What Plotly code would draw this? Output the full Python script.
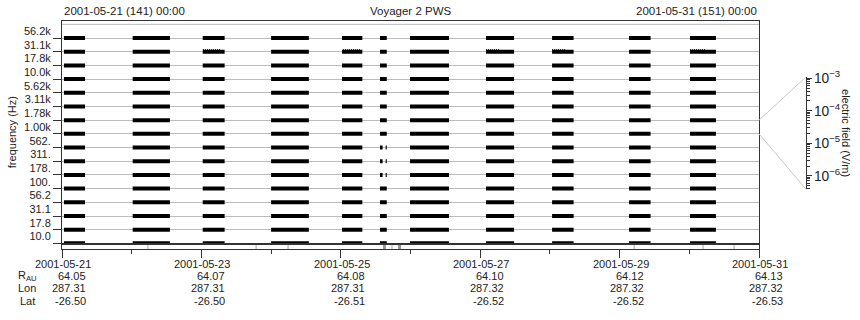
import math
import pandas as pd
import plotly.graph_objects as go

# ---------------- data ----------------
channel_labels = ['10.0', '17.8', '31.1', '56.2', '100.', '178.', '311.', '562.',
                  '1.00k', '1.78k', '3.11k', '5.62k', '10.0k', '17.8k', '31.1k', '56.2k']

obs_start = ['2001-05-21 00:40', '2001-05-22 00:20', '2001-05-23 00:27', '2001-05-24 00:00',
             '2001-05-25 00:25', '2001-05-25 13:30', '2001-05-25 23:50', '2001-05-27 02:00',
             '2001-05-28 00:45', '2001-05-29 03:15', '2001-05-30 00:15']
obs_end = ['2001-05-21 07:55', '2001-05-22 13:10', '2001-05-23 08:00', '2001-05-24 13:00',
           '2001-05-25 07:25', '2001-05-25 15:50', '2001-05-26 13:15', '2001-05-27 11:40',
           '2001-05-28 08:10', '2001-05-29 10:40', '2001-05-30 09:10']

gap_channels = ['178.', '311.', '562.']
gap_start = '2001-05-25 14:24'
gap_end = '2001-05-25 15:27'

# weak emission above background in the 31.1 kHz channel
active_channel = '31.1k'
active_start = ['2001-05-23 00:33', '2001-05-25 00:45', '2001-05-27 02:00',
                '2001-05-28 00:45', '2001-05-30 00:15']
active_end = ['2001-05-23 06:25', '2001-05-25 06:35', '2001-05-27 06:50',
              '2001-05-28 05:35', '2001-05-30 05:25']
active_level = 0.16

event_times = ['2001-05-22 05:35', '2001-05-23 18:50', '2001-05-24 05:50', '2001-05-25 17:38',
               '2001-05-29 05:00', '2001-05-30 04:44', '2001-05-30 15:25']
dropout_start = ['2001-05-25 14:32', '2001-05-25 19:42']
dropout_end = ['2001-05-25 15:34', '2001-05-25 20:45']

time_start = '2001-05-21 00:00'
time_end = '2001-05-31 00:00'

tick_dates = ['2001-05-21', '2001-05-23', '2001-05-25', '2001-05-27', '2001-05-29', '2001-05-31']
r_au = ['64.05', '64.07', '64.08', '64.10', '64.12', '64.13']
lon = ['287.31', '287.31', '287.31', '287.32', '287.32', '287.32']
lat = ['-26.50', '-26.50', '-26.51', '-26.52', '-26.52', '-26.53']

efield_range = [4e-7, 1.07e-3]
efield_minor = [m * 10.0 ** e for e in range(-7, -2) for m in range(2, 10)]
linked_channel = '1.00k'

# ---------------- layout geometry ----------------
W, H = 860, 320
ML, MR, MT, MB = 62, 20, 18, 71
PW = W - ML - MR
PH = H - MT - MB
xd = 697 / PW                      # main plot x-domain end
yd0 = (H - MB - 243.3) / PH        # main plot bottom
strip_top = (H - MB - 244.7) / PH
ytop = 16.245
cb_dom = [(H - MB - 188) / PH, (H - MB - 75) / PH]
cb_x = [(800 - ML) / PW, (805.7 - ML) / PW]

FONT = 'Liberation Sans, Arial, Helvetica, sans-serif'
TXT = '#222222'
AX = '#333333'


def py(px):
    return (H - MB - px) / PH


def ydata_to_paper(v):
    return yd0 + (v / ytop) * (1 - yd0)


# ---------------- bar segments ----------------
xs, ys = [], []
g0, g1 = pd.Timestamp(gap_start), pd.Timestamp(gap_end)
for i, lab in enumerate(channel_labels):
    for s, e in zip(obs_start, obs_end):
        s_t, e_t = pd.Timestamp(s), pd.Timestamp(e)
        pieces = [(s_t, e_t)]
        if lab in gap_channels and s_t < g0 and e_t > g1:
            pieces = [(s_t, g0), (g1, e_t)]
        for a, b in pieces:
            xs += [a, b, None]
            ys += [i, i, None]

ai = channel_labels.index(active_channel)
axs, ays = [], []
for s, e in zip(active_start, active_end):
    axs += [s, e, None]
    ays += [ai + active_level, ai + active_level, None]

fig = go.Figure()
fig.add_trace(go.Scatter(x=axs, y=ays, mode='lines',
                         line=dict(color='#333333', width=1, dash='1px,1px'),
                         xaxis='x', yaxis='y', hoverinfo='skip', showlegend=False))
fig.add_trace(go.Scatter(x=xs, y=ys, mode='lines', line=dict(color='black', width=4),
                         xaxis='x', yaxis='y', hoverinfo='skip', showlegend=False))
# invisible trace to carry label axis
fig.add_trace(go.Scatter(x=[time_start], y=[0], mode='markers', marker=dict(opacity=0),
                         xaxis='x', yaxis='y2', hoverinfo='skip', showlegend=False))

# strip events
ex, ey = [], []
for t in event_times:
    ex += [t, t, None]
    ey += [0, 1, None]
fig.add_trace(go.Scatter(x=ex, y=ey, mode='lines', line=dict(color='#aaaaaa', width=1),
                         xaxis='x2', yaxis='y3', hoverinfo='skip', showlegend=False))

# colour axis carriers
fig.add_trace(go.Scatter(x=[0.5, 0.5], y=efield_range, mode='markers', marker=dict(opacity=0),
                         xaxis='x3', yaxis='y4', hoverinfo='skip', showlegend=False))
fig.add_trace(go.Scatter(x=[0.5, 0.5], y=efield_range, mode='markers', marker=dict(opacity=0),
                         xaxis='x3', yaxis='y5', hoverinfo='skip', showlegend=False))

shapes = []
for s, e in zip(dropout_start, dropout_end):
    shapes.append(dict(type='rect', xref='x2', yref='y3', x0=s, x1=e, y0=0, y1=1,
                       fillcolor='#999999', line=dict(width=0), layer='below'))
# top row boundary gridline
shapes.append(dict(type='line', xref='x domain', yref='y', x0=0, x1=1,
                   y0=len(channel_labels), y1=len(channel_labels),
                   line=dict(color='#bbbbbb', width=1), layer='below'))
# connectors to the colour axis
ci = channel_labels.index(linked_channel)
shapes.append(dict(type='line', xref='paper', yref='paper', x0=xd, x1=cb_x[1],
                   y0=ydata_to_paper(ci + 1), y1=cb_dom[1], line=dict(color='#c8c8c8', width=1)))
shapes.append(dict(type='line', xref='paper', yref='paper', x0=xd, x1=cb_x[1],
                   y0=ydata_to_paper(ci), y1=cb_dom[0], line=dict(color='#c8c8c8', width=1)))

ann = []
f = dict(family=FONT, size=11, color=TXT)
ft = dict(family=FONT, size=11.5, color=TXT)
ann.append(dict(text='2001-05-21 (141) 00:00', xref='x domain', yref='paper', x=0, y=py(7.5),
                xanchor='left', yanchor='middle', showarrow=False, font=ft))
ann.append(dict(text='Voyager 2 PWS', xref='x domain', yref='paper', x=0.5, y=py(7.5),
                xanchor='center', yanchor='middle', showarrow=False, font=ft))
ann.append(dict(text='2001-05-31 (151) 00:00', xref='x domain', yref='paper', x=1, y=py(7.5),
                xanchor='right', yanchor='middle', showarrow=False, font=ft))
ann.append(dict(text='frequency (Hz)', xref='paper', yref='paper', x=0, xshift=-50,
                y=(yd0 + 1) / 2, textangle=-90, xanchor='center', yanchor='middle',
                showarrow=False, font=f))
ann.append(dict(text='electric field (V/m)', xref='paper', yref='paper',
                x=(846.5 - ML) / PW, y=py(131), textangle=90, xanchor='center',
                yanchor='middle', showarrow=False, font=f))

row_px = [264, 276.5, 289, 301.5]
for lab, ypx in zip(['R<sub>AU</sub>', 'Lon', 'Lat'], row_px[1:]):
    ann.append(dict(text=lab, xref='paper', yref='paper', x=0, xshift=-35, y=py(ypx),
                    xanchor='center', yanchor='middle', showarrow=False, font=f))
for d, r, lo, la in zip(tick_dates, r_au, lon, lat):
    ann.append(dict(text=d, xref='x', yref='paper', x=d, xshift=1, y=py(row_px[0]),
                    xanchor='center', yanchor='middle', showarrow=False, font=f))
    for v, ypx in zip([r, lo, la], row_px[1:]):
        ann.append(dict(text=v, xref='x', yref='paper', x=d, xshift=26, y=py(ypx),
                        xanchor='right', yanchor='middle', showarrow=False, font=f))

DAY = 86400000
cb_range = [math.log10(efield_range[0]), math.log10(efield_range[1])]
fig.update_layout(
    width=W, height=H, margin=dict(l=ML, r=MR, t=MT, b=MB, pad=0),
    paper_bgcolor='white', plot_bgcolor='white',
    font=f, showlegend=False,
    xaxis=dict(domain=[0, xd], anchor='y', type='date', range=[time_start, time_end],
               showline=True, mirror=True, linecolor=AX, ticks='', showticklabels=False,
               showgrid=False, zeroline=False),
    yaxis=dict(domain=[yd0, 1], anchor='x', range=[0, ytop],
               tickvals=list(range(len(channel_labels))), ticks='outside', ticklen=8,
               tickcolor=AX, showticklabels=False, showgrid=True, gridcolor='#bbbbbb',
               showline=True, mirror=True, linecolor=AX, zeroline=False),
    yaxis2=dict(overlaying='y', anchor='x', side='left', range=[0, ytop],
                tickvals=[i + 0.5 for i in range(len(channel_labels))],
                ticktext=channel_labels, ticks='outside', ticklen=8,
                tickcolor='rgba(0,0,0,0)', showgrid=False, showline=False, zeroline=False,
                tickfont=f),
    xaxis2=dict(domain=[0, xd], anchor='y3', type='date', matches='x',
                range=[time_start, time_end], showline=True, mirror=True, linecolor=AX,
                ticks='outside', ticklen=8, tickcolor=AX, tick0=time_start, dtick=2 * DAY,
                showticklabels=False, showgrid=False, zeroline=False,
                minor=dict(ticks='outside', ticklen=4, tickcolor=AX, dtick=DAY,
                           tick0=time_start, showgrid=False)),
    yaxis3=dict(domain=[0, strip_top], anchor='x2', range=[0, 1], showline=True,
                mirror=True, linecolor=AX, ticks='', showticklabels=False,
                showgrid=False, zeroline=False),
    xaxis3=dict(domain=cb_x, anchor='y4', range=[0, 1], visible=False),
    yaxis4=dict(domain=cb_dom, anchor='x3', side='right', type='log', range=cb_range,
                showline=True, linecolor=AX, ticks='outside', ticklen=5, tickcolor=AX,
                dtick=1, exponentformat='power', showexponent='all', showgrid=False,
                zeroline=False, tickfont=f),
    yaxis5=dict(overlaying='y4', anchor='x3', side='right', type='log', range=cb_range,
                tickvals=efield_minor, ticks='outside', ticklen=3, tickcolor=AX,
                showticklabels=False, showline=False, showgrid=False, zeroline=False),
    shapes=shapes, annotations=ann,
)

fig.write_html('out.html')
